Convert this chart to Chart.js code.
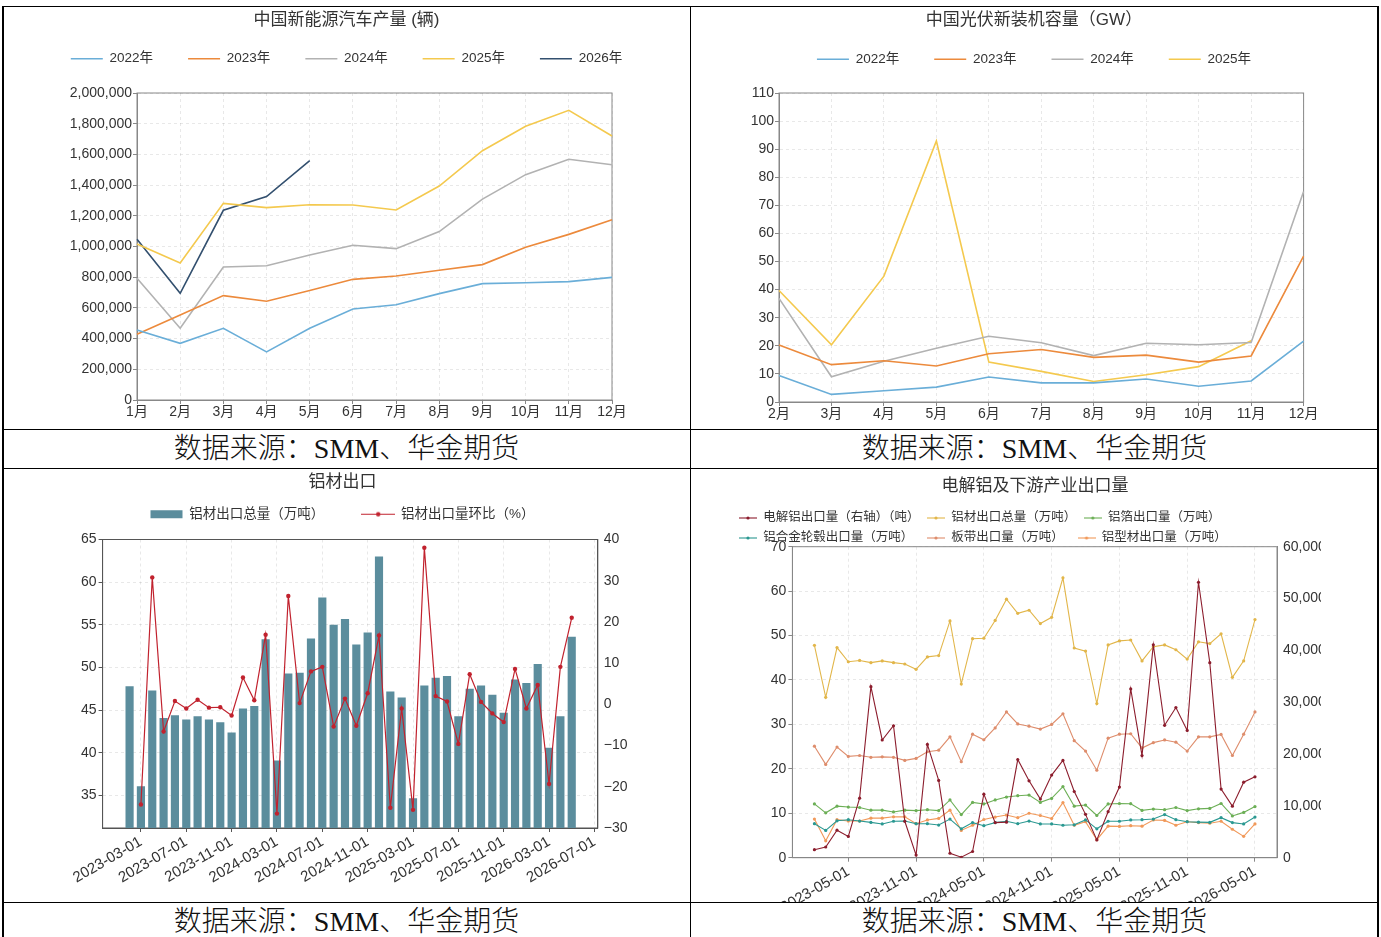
<!DOCTYPE html>
<html>
<head>
<meta charset="utf-8">
<script src="https://cdn.jsdelivr.net/npm/chart.js@4"></script>
<style>
body { margin: 0; background: #fff; }
#page { position: relative; width: 1381px; height: 937px; overflow: hidden; background: #fff; }
.ln { position: absolute; background: #000; }
.cell { position: absolute; overflow: hidden; }
.cap { position: absolute; text-align: center; font-family: "Liberation Serif", "Noto Sans CJK SC", serif; font-weight: 300; font-size: 28px; line-height: 38px; color: #111; }
</style>
</head>
<body>
<div id="page">
  <div class="cell" style="left:4px;top:7px;width:685px;height:422px"><canvas id="nev" width="685" height="422"></canvas></div>
  <div class="cell" style="left:691px;top:7px;width:686px;height:422px"><canvas id="pv" width="686" height="422"></canvas></div>
  <div class="cell" style="left:4px;top:469px;width:685px;height:433px"><canvas id="alu" width="685" height="433"></canvas></div>
  <div class="cell" style="left:691px;top:469px;width:630px;height:433px"><canvas id="down" width="686" height="433"></canvas></div>

  <div class="cap" style="left:3px;top:430px;width:687px">数据来源：SMM、华金期货</div>
  <div class="cap" style="left:691px;top:430px;width:687px">数据来源：SMM、华金期货</div>
  <div class="cap" style="left:3px;top:903px;width:687px">数据来源：SMM、华金期货</div>
  <div class="cap" style="left:691px;top:903px;width:687px">数据来源：SMM、华金期货</div>

  <div class="ln" style="left:2px;top:6px;width:1377px;height:1px"></div>
  <div class="ln" style="left:2px;top:429px;width:1377px;height:1px"></div>
  <div class="ln" style="left:2px;top:468px;width:1377px;height:1px"></div>
  <div class="ln" style="left:2px;top:902px;width:1377px;height:1px"></div>
  <div class="ln" style="left:2px;top:6px;width:2px;height:931px"></div>
  <div class="ln" style="left:690px;top:6px;width:1px;height:931px"></div>
  <div class="ln" style="left:1377px;top:6px;width:2px;height:931px"></div>
</div>

<script>
// 中国新能源汽车产量（辆）
const nevMonths = ['1月', '2月', '3月', '4月', '5月', '6月', '7月', '8月', '9月', '10月', '11月', '12月'];
const nev2022 = [456000, 369000, 467000, 313000, 467000, 593000, 621000, 693000, 758000, 764000, 771000, 799000];
const nev2023 = [428000, 554000, 680000, 643000, 714000, 786000, 808000, 845000, 882000, 995000, 1079000, 1175000];
const nev2024 = [793000, 467000, 866000, 875000, 945000, 1008000, 986000, 1097000, 1309000, 1468000, 1568000, 1533000];
const nev2025 = [1016000, 892000, 1281000, 1253000, 1272000, 1270000, 1238000, 1394000, 1624000, 1783000, 1887000, 1720000];
const nev2026 = [1047000, 695000, 1236000, 1325000, 1559000];

// 中国光伏新装机容量（GW）
const pvMonths = ['2月', '3月', '4月', '5月', '6月', '7月', '8月', '9月', '10月', '11月', '12月'];
const pv2022 = [9.4, 2.7, 4.0, 5.3, 8.9, 6.8, 6.8, 8.2, 5.6, 7.5, 21.7];
const pv2023 = [20.3, 13.3, 14.7, 12.8, 17.2, 18.7, 15.9, 16.7, 14.2, 16.4, 51.9];
const pv2024 = [36.9, 9.0, 14.5, 19.1, 23.4, 21.1, 16.5, 20.9, 20.4, 21.2, 74.9];
const pv2025 = [39.7, 20.4, 44.8, 92.9, 14.2, 10.9, 7.3, 9.7, 12.6, 21.8];

// 铝材出口 (2023-02 .. 2026-05)
const aluMonths = ['2023-02', '2023-03', '2023-04', '2023-05', '2023-06', '2023-07', '2023-08', '2023-09', '2023-10', '2023-11',
  '2023-12', '2024-01', '2024-02', '2024-03', '2024-04', '2024-05', '2024-06', '2024-07', '2024-08', '2024-09',
  '2024-10', '2024-11', '2024-12', '2025-01', '2025-02', '2025-03', '2025-04', '2025-05', '2025-06', '2025-07',
  '2025-08', '2025-09', '2025-10', '2025-11', '2025-12', '2026-01', '2026-02', '2026-03', '2026-04', '2026-05'];
const aluExport = [47.8, 36.1, 47.3, 44.1, 44.4, 43.9, 44.3, 43.9, 43.6, 42.4,
  45.2, 45.5, 53.3, 39.1, 49.3, 49.4, 53.4, 58.2, 55.0, 55.7,
  52.7, 54.1, 63.0, 47.2, 46.5, 34.7, 47.9, 48.8, 49.0, 44.3,
  47.5, 47.9, 46.8, 44.7, 48.6, 48.2, 50.4, 40.6, 44.3, 53.6];
const aluMoM = [null, -24.3, 30.8, -6.6, 0.8, -1.0, 1.1, -0.8, -0.7, -2.7,
  6.5, 1.0, 16.9, -26.5, 26.3, 0.3, 8.0, 9.1, -5.4, 1.4,
  -5.2, 2.7, 16.7, -25.1, -1.0, -25.6, 38.0, 2.0, 0.7, -9.6,
  7.3, 0.6, -2.2, -4.3, 8.6, -1.0, 4.7, -19.3, 9.1, 21.0];
const aluTickLabels = ['2023-03-01', '2023-07-01', '2023-11-01', '2024-03-01', '2024-07-01', '2024-11-01',
  '2025-03-01', '2025-07-01', '2025-11-01', '2026-03-01', '2026-07-01'];

// 电解铝及下游产业出口量
const primaryAlu = [1540, 2060, 5310, 4110, 11490, 33000, 22710, 25460, 7030, 510,
  21860, 14910, 860, 90, 1200, 12260, 6770, 6860, 18940, 14830,
  11310, 15940, 18770, 12770, 8360, 3430, 8870, 13630, 32570, 19710,
  41060, 25540, 28970, 24560, 53140, 37630, 13240, 9940, 14570, 15600];
const foilExport = [12.1, 10.1, 11.6, 11.4, 11.3, 10.7, 10.7, 10.3, 10.7, 10.6,
  10.8, 10.6, 13.0, 9.7, 12.45, 12.1, 13.0, 13.65, 13.95, 14.1,
  12.45, 13.35, 16.0, 11.6, 11.85, 9.5, 12.1, 12.2, 12.15, 10.65,
  10.95, 10.8, 11.3, 10.6, 11.0, 11.1, 12.2, 9.4, 10.2, 11.5];
const wheelExport = [7.65, 6.15, 8.3, 8.55, 8.25, 7.95, 7.6, 8.2, 8.25, 7.65,
  7.65, 7.35, 8.7, 6.5, 7.9, 7.2, 7.9, 8.2, 7.65, 8.25,
  7.6, 7.6, 7.3, 7.4, 8.5, 6.5, 8.2, 8.2, 8.5, 8.55,
  8.7, 9.7, 8.55, 8.1, 8.0, 7.95, 9.0, 7.9, 7.6, 9.15];
const sheetExport = [25.1, 21.0, 24.9, 22.8, 23.0, 22.6, 22.7, 22.6, 21.9, 22.35,
  23.85, 24.2, 27.2, 21.6, 27.8, 26.55, 29.2, 32.8, 30.1, 29.6,
  28.95, 30.0, 32.4, 26.35, 24.0, 19.7, 26.9, 27.8, 27.9, 24.7,
  25.9, 26.5, 26.0, 24.0, 27.2, 27.2, 27.75, 23.0, 27.8, 32.8];
const profileExport = [8.7, 3.8, 8.55, 8.25, 8.25, 8.9, 8.9, 9.2, 9.2, 7.65,
  8.5, 8.85, 10.7, 6.15, 7.3, 8.6, 9.15, 9.6, 9.0, 10.0,
  9.5, 8.8, 12.4, 7.3, 8.1, 4.05, 7.1, 7.05, 7.2, 7.1,
  8.5, 8.4, 7.3, 8.1, 7.9, 7.75, 8.2, 6.4, 4.8, 7.6];
const downTickLabels = ['2023-05-01', '2023-11-01', '2024-05-01', '2024-11-01', '2025-05-01', '2025-11-01', '2026-05-01'];


const FONT = '"Liberation Sans", "Noto Sans CJK SC", sans-serif';
Chart.defaults.font.family = FONT;
Chart.defaults.font.size = 14;
Chart.defaults.color = '#333';
Chart.defaults.animation = false;

const toPoints = arr => arr.map((v, i) => ({ x: i, y: v }));
function monthIndex(label) {
  const [y0, m0] = aluMonths[0].split('-').map(Number);
  const [y, m] = label.split('-').map(Number);
  return (y - y0) * 12 + (m - m0);
}
const fixW = w => s => { s.width = w; };
const fixH = h => s => { s.height = h; };

// push chart area away from legend (or pull it up when negative)
function legendGap(extra) {
  return {
    id: 'legendGap',
    beforeInit(chart) {
      const fit = chart.legend.fit;
      chart.legend.fit = function () {
        fit.call(this);
        this.height += extra;
      };
    }
  };
}

// matplotlib style box around the plot
const boxFrame = {
  id: 'boxFrame',
  beforeDatasetsDraw(chart, args, opts) {
    const a = chart.chartArea;
    const ctx = chart.ctx;
    ctx.save();
    ctx.strokeStyle = opts.color;
    ctx.lineWidth = 1;
    ctx.strokeRect(a.left, a.top, a.right - a.left, a.bottom - a.top);
    ctx.restore();
  }
};

// legend symbol: short line with a dot in the middle
function lineDot(color, w, r, lw) {
  const c = document.createElement('canvas');
  c.width = w; c.height = Math.ceil(r * 2 + 2);
  const g = c.getContext('2d');
  g.strokeStyle = color; g.fillStyle = color; g.lineWidth = lw;
  g.beginPath(); g.moveTo(0, c.height / 2); g.lineTo(w, c.height / 2); g.stroke();
  g.beginPath(); g.arc(w / 2, c.height / 2, r, 0, Math.PI * 2); g.fill();
  return c;
}

const title = (text, top, bottom) => ({
  display: true, text, color: '#333',
  font: { size: 17, weight: 'normal' },
  padding: { top, bottom }
});

const gridStyle = color => ({ color: 'rgba(0,0,0,0.09)', tickColor: color, tickLength: 4 });
const borderStyle = color => ({ color, dash: [3, 3] });

// invisible right axis, keeps title / legend centred on the whole cell
const spacer = w => ({
  position: 'right', display: true,
  grid: { display: false }, border: { display: false }, ticks: { display: false },
  afterFit: fixW(w)
});

const blue = '#6aaed8', orange = '#ec8a3c', grey = '#b2b2b2', yellow = '#f4c94e', navy = '#33506f';


new Chart(document.getElementById('nev'), {
  type: 'line',
  data: {
    labels: nevMonths,
    datasets: [
      { label: '2022年', data: nev2022, borderColor: blue },
      { label: '2023年', data: nev2023, borderColor: orange },
      { label: '2024年', data: nev2024, borderColor: grey },
      { label: '2025年', data: nev2025, borderColor: yellow },
      { label: '2026年', data: nev2026, borderColor: navy }
    ]
  },
  options: {
    responsive: false,
    elements: { point: { radius: 0, borderWidth: 1.6 }, line: { borderWidth: 1.6 } },
    plugins: {
      title: title('中国新能源汽车产量 (辆)', 2.8, -13.25),
      legend: { labels: { usePointStyle: true, pointStyle: 'line', pointStyleWidth: 32, padding: 35, font: { size: 13.5 }, color: '#333' } },
      tooltip: { enabled: false },
      boxFrame: { color: '#888' }
    },
    scales: {
      x: { grid: gridStyle('#888'), border: borderStyle('#888'), ticks: { padding: 0 }, afterFit: fixH(29) },
      y: { min: 0, max: 2000000, ticks: { stepSize: 200000, padding: 1 }, grid: gridStyle('#888'), border: borderStyle('#888'), afterFit: fixW(133) },
      pad: spacer(77)
    }
  },
  plugins: [legendGap(17.55), boxFrame]
});


new Chart(document.getElementById('pv'), {
  type: 'line',
  data: {
    labels: pvMonths,
    datasets: [
      { label: '2022年', data: pv2022, borderColor: blue },
      { label: '2023年', data: pv2023, borderColor: orange },
      { label: '2024年', data: pv2024, borderColor: grey },
      { label: '2025年', data: pv2025, borderColor: yellow }
    ]
  },
  options: {
    responsive: false,
    elements: { point: { radius: 0, borderWidth: 1.6 }, line: { borderWidth: 1.6 } },
    plugins: {
      title: title('中国光伏新装机容量（GW）', 2.8, -12.65),
      legend: { labels: { usePointStyle: true, pointStyle: 'line', pointStyleWidth: 32, padding: 35, font: { size: 13.5 }, color: '#333' } },
      tooltip: { enabled: false },
      boxFrame: { color: '#888' }
    },
    scales: {
      x: { grid: gridStyle('#888'), border: borderStyle('#888'), ticks: { padding: 0 }, afterFit: fixH(27) },
      y: { min: 0, max: 110, ticks: { stepSize: 10, padding: 1 }, grid: gridStyle('#888'), border: borderStyle('#888'), afterFit: fixW(88) },
      pad: spacer(73.4)
    }
  },
  plugins: [legendGap(16.95), boxFrame]
});


const aluTickPos = aluTickLabels.map(monthIndex);
new Chart(document.getElementById('alu'), {
  type: 'bar',
  data: {
    datasets: [
      {
        type: 'bar', label: '铝材出口总量（万吨）', data: toPoints(aluExport),
        backgroundColor: '#5b8d9d', barPercentage: 0.72, categoryPercentage: 1,
        yAxisID: 'y', order: 2
      },
      {
        type: 'line', label: '铝材出口量环比（%）', data: toPoints(aluMoM),
        borderColor: '#c1222e', backgroundColor: '#c1222e', borderWidth: 1.2,
        pointRadius: 2.2, pointBorderWidth: 0, yAxisID: 'y2', order: 1
      }
    ]
  },
  options: {
    responsive: false,
    layout: { padding: { right: 8 } },
    plugins: {
      title: title('铝材出口', 2.8, -22.7),
      legend: {
        labels: {
          usePointStyle: true, pointStyleWidth: 32, boxHeight: 8, padding: 38,
          font: { size: 13.5 }, color: '#333',
          sort: (a, b) => a.datasetIndex - b.datasetIndex,
          generateLabels(chart) {
            const items = Chart.defaults.plugins.legend.labels.generateLabels(chart);
            items.forEach(it => {
              const ds = chart.data.datasets[it.datasetIndex];
              it.pointStyle = ds.type === 'line' ? lineDot(ds.borderColor, 34, 2.2, 1.2) : 'rect';
            });
            return items;
          }
        }
      },
      tooltip: { enabled: false },
      boxFrame: { color: '#555' }
    },
    scales: {
      x: {
        type: 'linear', min: -2.38, max: 41.3, offset: false,
        grid: Object.assign(gridStyle('#555'), { offset: false }), border: borderStyle('#555'),
        afterBuildTicks: s => { s.ticks = aluTickPos.map(v => ({ value: v })); },
        ticks: { autoSkip: false, minRotation: 30, maxRotation: 30, padding: 1, font: { size: 15 }, callback: (v, i) => aluTickLabels[i] },
        afterFit: fixH(74)
      },
      y: {
        min: 31.2, max: 65, position: 'left',
        ticks: { stepSize: 5, includeBounds: false, padding: 2 },
        grid: gridStyle('#555'), border: borderStyle('#555'),
        afterFit: fixW(98.6)
      },
      y2: {
        min: -30, max: 40, position: 'right',
        ticks: { stepSize: 10, padding: 2, callback: v => String(v).replace('-', '\u2212') },
        grid: { display: false, drawOnChartArea: false, tickColor: '#555', tickLength: 4 },
        border: { color: '#555' },
        afterFit: fixW(83.2)
      }
    }
  },
  plugins: [legendGap(8.5), boxFrame]
});


const downTickPos = downTickLabels.map(monthIndex);
const downLegendPad = ['', '', '', '\u3000', '\u3000', ''];
const dot = (label, data, color, axis) => ({
  label, data: toPoints(data), borderColor: color, backgroundColor: color,
  borderWidth: 1.1, pointRadius: 1.6, pointBorderWidth: 0, yAxisID: axis
});
new Chart(document.getElementById('down'), {
  type: 'line',
  data: {
    datasets: [
      dot('电解铝出口量（右轴）（吨）', primaryAlu, '#8c1d2d', 'y2'),
      dot('铝材出口总量（万吨）', aluExport, '#e2b64a', 'y'),
      dot('铝箔出口量（万吨）', foilExport, '#6caf56', 'y'),
      dot('铝合金轮毂出口量（万吨）', wheelExport, '#2a9891', 'y'),
      dot('板带出口量（万吨）', sheetExport, '#de8d6c', 'y'),
      dot('铝型材出口量（万吨）', profileExport, '#f1995a', 'y')
    ]
  },
  options: {
    responsive: false,
    layout: { padding: { left: 40.5, right: 38.5 } },
    plugins: {
      title: title('电解铝及下游产业出口量', 6.8, 8.05),
      legend: {
        align: 'start',
        labels: {
          usePointStyle: true, pointStyleWidth: 18, padding: 7.5,
          font: { size: 12.5 }, color: '#333',
          generateLabels(chart) {
            const items = Chart.defaults.plugins.legend.labels.generateLabels(chart);
            items.forEach((it, i) => {
              it.text += downLegendPad[i];
              it.pointStyle = lineDot(chart.data.datasets[it.datasetIndex].borderColor, 18, 1.6, 1.1);
            });
            return items;
          }
        }
      },
      tooltip: { enabled: false },
      boxFrame: { color: '#888' }
    },
    scales: {
      x: {
        type: 'linear', min: -1.95, max: 40.95,
        grid: gridStyle('#888'), border: borderStyle('#888'),
        afterBuildTicks: s => { s.ticks = downTickPos.map(v => ({ value: v })); },
        ticks: { autoSkip: false, minRotation: 30, maxRotation: 30, padding: 1, font: { size: 15 }, callback: (v, i) => downTickLabels[i] },
        afterFit: fixH(44.3)
      },
      y: {
        min: 0, max: 70, position: 'left',
        ticks: { stepSize: 10, padding: 2 },
        grid: gridStyle('#888'), border: borderStyle('#888'),
        afterFit: fixW(60.9)
      },
      y2: {
        min: 0, max: 60000, position: 'right',
        ticks: { stepSize: 10000, padding: 2 },
        grid: { display: false, drawOnChartArea: false, tickColor: '#888', tickLength: 4 },
        border: { color: '#888' },
        afterFit: fixW(61.5)
      }
    }
  },
  plugins: [legendGap(-7.55), boxFrame]
});
</script>
</body>
</html>
